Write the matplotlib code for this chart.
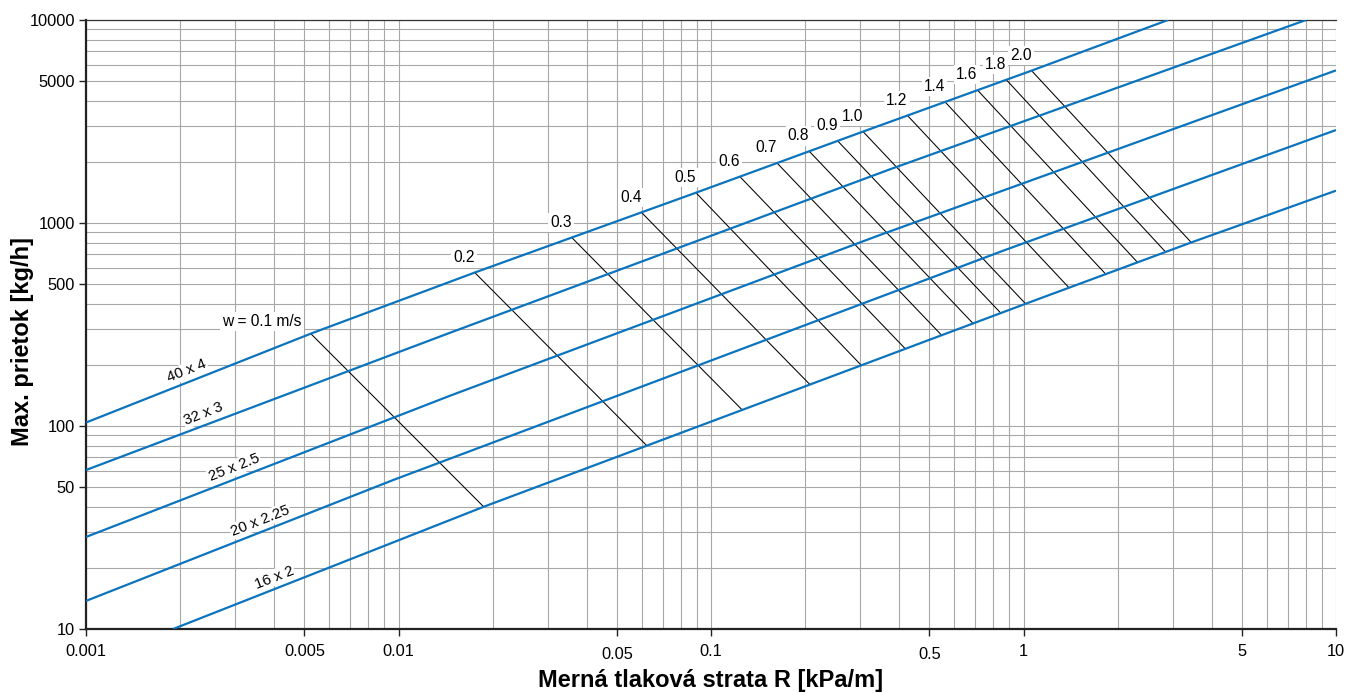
import numpy as np
import matplotlib
matplotlib.use("Agg")
import matplotlib.pyplot as plt
from matplotlib.ticker import FixedLocator, NullFormatter
import matplotlib.transforms as mtransforms

plt.rcParams['font.family'] = ['Liberation Sans', 'DejaVu Sans']

# ---- Data ----
pipe_names = ["40 x 4", "32 x 3", "25 x 2.5", "20 x 2.25", "16 x 2"]
pipe_R = [
    [0.001, 0.0053, 0.0177, 0.0895, 0.306, 1.06, 2.9],
    [0.001, 0.01462, 0.374, 8.02],
    [0.001, 0.01462, 0.3474, 10.0],
    [0.001, 0.00962, 0.883, 10.0],
    [0.0019, 0.01865, 1.011, 3.45, 10.0],
]
pipe_flow = [
    [104, 287, 573, 1410, 2817, 5627, 10000],
    [60.7, 288, 1839, 10000],
    [28.4, 141, 873, 5650],
    [13.75, 54.2, 741, 2871],
    [10, 39.9, 399, 803, 1443],
]
# pipe label positions (R) along each line
pipe_label_R = [0.00210, 0.00237, 0.00298, 0.00361, 0.0040]

# velocity lines: flow on top pipe (40x4) and on bottom pipe (16x2)
velocities = ["0.1", "0.2", "0.3", "0.4", "0.5", "0.6", "0.7", "0.8", "0.9",
              "1.0", "1.2", "1.4", "1.6", "1.8", "2.0"]
vel_top_flow = [285, 570, 848, 1128, 1410, 1692, 1974, 2256, 2538,
                2820, 3384, 3948, 4512, 5076, 5630]
vel_bottom_flow = [40, 80, 120, 160, 199, 240, 280, 320, 360,
                   400, 480, 560, 640, 720, 802]

xticks = [0.001, 0.005, 0.01, 0.05, 0.1, 0.5, 1, 5, 10]
xtick_labels = ["0.001", "0.005", "0.01", "0.05", "0.1", "0.5", "1", "5", "10"]
yticks = [10, 50, 100, 500, 1000, 5000, 10000]
ytick_labels = ["10", "50", "100", "500", "1000", "5000", "10000"]

BLUE = "#0b74bd"

fig = plt.figure(figsize=(13.49, 6.93), dpi=100)
ax = fig.add_axes([86/1349, 64/693, 1250/1349, 609/693])
ax.set_xscale('log')
ax.set_yscale('log')
ax.set_xlim(0.001, 10)
ax.set_ylim(10, 10000)


def R_on_pipe(i, flow):
    lr = np.log10(pipe_R[i]); lf = np.log10(pipe_flow[i])
    return 10 ** np.interp(np.log10(flow), lf, lr)


def flow_on_pipe(i, R):
    lr = np.log10(pipe_R[i]); lf = np.log10(pipe_flow[i])
    return 10 ** np.interp(np.log10(R), lr, lf)


# grid
minor = []
for d in [0.001, 0.01, 0.1, 1]:
    for k in range(2, 10):
        minor.append(d * k)
ymin = []
for d in [10, 100, 1000]:
    for k in range(2, 10):
        ymin.append(d * k)
ax.xaxis.set_major_locator(FixedLocator(xticks))
ax.xaxis.set_minor_locator(FixedLocator(minor + [0.001, 0.01, 0.1, 1, 10]))
ax.yaxis.set_major_locator(FixedLocator(yticks))
ax.yaxis.set_minor_locator(FixedLocator(ymin + [10, 100, 1000, 10000]))
ax.xaxis.set_minor_formatter(NullFormatter())
ax.yaxis.set_minor_formatter(NullFormatter())
ax.set_xticklabels(xtick_labels)
ax.set_yticklabels(ytick_labels)
ax.grid(which='both', color='#a8a8a8', linewidth=0.8)
ax.set_axisbelow(True)
ax.tick_params(which='minor', length=0)
ax.tick_params(which='major', length=5, width=1, direction='out',
               labelsize=11.8, pad=3, color='#222222')
ax.tick_params(axis='x', which='major', pad=6)

for s in ['left', 'bottom']:
    ax.spines[s].set_linewidth(1.6)
    ax.spines[s].set_color('#222222')
ax.spines['top'].set_linewidth(0.9)
ax.spines['top'].set_color('#333333')
ax.spines['right'].set_visible(False)

# pipe lines
for i in range(len(pipe_names)):
    ax.plot(pipe_R[i], pipe_flow[i], color=BLUE, lw=1.6, solid_capstyle='butt',
            zorder=3)

# velocity lines
top_i, bot_i = 0, len(pipe_names) - 1
bbox = dict(facecolor='white', edgecolor='none', pad=1.5)
for j, v in enumerate(velocities):
    r1 = R_on_pipe(top_i, vel_top_flow[j])
    r2 = R_on_pipe(bot_i, vel_bottom_flow[j])
    ax.plot([r1, r2], [vel_top_flow[j], vel_bottom_flow[j]], color='black',
            lw=0.75, zorder=2.5)
    if j == 0:
        txt = "w = " + v + " m/s"
        off = (-6.5, 9)
    else:
        txt = v
        off = (0, 11)
    ax.annotate(txt, (r1, vel_top_flow[j]), xytext=off, textcoords='offset points',
                ha='right', va='center', fontsize=11.2, bbox=bbox, zorder=4)

# pipe labels
for i, name in enumerate(pipe_names):
    r = pipe_label_R[i]
    f = flow_on_pipe(i, r)
    ax.annotate(name, (r, f), xytext=(0, 8.5), textcoords='offset points',
                ha='center', va='center', rotation=21.5, rotation_mode='anchor',
                fontsize=10.8, bbox=dict(facecolor='white', edgecolor='none', pad=0.8),
                zorder=4)

ax.set_xlabel("Merná tlaková strata R [kPa/m]", fontsize=17, fontweight='bold')
ax.set_ylabel("Max. prietok [kg/h]", fontsize=17, fontweight='bold')
ax.xaxis.set_label_coords(0.5, (629 - 669) / 609)
ax.yaxis.set_label_coords((34 - 86) / 1250, (629 - 341) / 609)

# slight downward shift of some x tick labels as in reference
fig.canvas.draw()
off = mtransforms.ScaledTranslation(0, -3/100, fig.dpi_scale_trans)
for lab in ax.get_xticklabels():
    if lab.get_text() in ("0.05", "0.5"):
        lab.set_transform(lab.get_transform() + off)

fig.savefig("out.png", dpi=100)
